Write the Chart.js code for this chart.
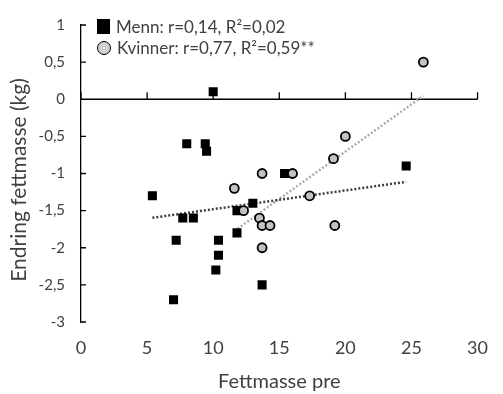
<!DOCTYPE html>
<html>
<head>
<meta charset="utf-8">
<script src="https://cdn.jsdelivr.net/npm/chart.js@4.4.0/dist/chart.umd.min.js"></script>
<style>
  body { margin: 0; background: #fff; }
  #wrap { position: relative; width: 503px; height: 394px; font-family: Lato, sans-serif; color: #404040; }
  #legend { position: absolute; left: 97px; top: 16px; font-size: 17px; }
  .item { display: flex; align-items: center; height: 21px; }
  .sq { width: 13px; height: 15px; background: #000; margin-right: 6px; }
  .ci { width: 12px; height: 12px; border: 1.6px solid #000; border-radius: 50%; background: #d2d2d2; margin-right: 6px; }
</style>
</head>
<body>
<div id="wrap">
  <canvas id="chart"></canvas>
  <div id="legend">
    <div class="item"><span class="sq"></span>Menn: r=0,14, R²=0,02</div>
    <div class="item"><span class="ci"></span>Kvinner: r=0,77, R²=0,59**</div>
  </div>
</div>
<script>
// Fettmasse pre (x) and endring fettmasse (y)
const menX = [10.0, 5.4, 8.0, 9.4, 9.5, 15.4, 24.6, 7.7, 8.5, 7.2, 10.4, 10.4, 10.2, 7.0, 13.7, 11.8, 11.8, 13.0];
const menY = [0.1, -1.3, -0.6, -0.6, -0.7, -1.0, -0.9, -1.6, -1.6, -1.9, -1.9, -2.1, -2.3, -2.7, -2.5, -1.8, -1.5, -1.4];
const womenX = [25.9, 20.0, 19.1, 13.7, 16.0, 11.6, 17.3, 12.3, 13.5, 13.7, 14.3, 19.2, 13.7];
const womenY = [0.5, -0.5, -0.8, -1.0, -1.0, -1.2, -1.3, -1.5, -1.6, -1.7, -1.7, -1.7, -2.0];

const xTicks = [0, 5, 10, 15, 20, 25, 30];
const yTicks = [1, 0.5, 0, -0.5, -1, -1.5, -2, -2.5, -3];

const xTitle = "Fettmasse pre";
const yTitle = "Endring fettmasse (kg)";

const toPoints = (xs, ys) => xs.map((x, i) => ({ x: x, y: ys[i] }));

// least squares line over the range of the data (like the Excel trendline)
function trend(xs, ys) {
  const n = xs.length;
  const mx = xs.reduce((s, v) => s + v, 0) / n;
  const my = ys.reduce((s, v) => s + v, 0) / n;
  let sxy = 0, sxx = 0;
  xs.forEach((x, i) => { sxy += (x - mx) * (ys[i] - my); sxx += (x - mx) * (x - mx); });
  const b = sxy / sxx, a = my - b * mx;
  const lo = Math.min(...xs), hi = Math.max(...xs);
  return [{ x: lo, y: a + b * lo }, { x: hi, y: a + b * hi }];
}

const textColor = "#404040";

// zero line with inside ticks, and inside ticks on the y axis
const axisMarks = {
  id: "axisMarks",
  beforeDatasetsDraw(chart) {
    const { ctx, chartArea, scales: { x, y } } = chart;
    const y0 = y.getPixelForValue(0);
    ctx.save();
    ctx.strokeStyle = "#000";
    ctx.lineWidth = 1.3;
    ctx.beginPath();
    ctx.moveTo(chartArea.left, y0);
    ctx.lineTo(chartArea.right, y0);
    x.ticks.forEach((t) => {
      const px = x.getPixelForValue(t.value);
      ctx.moveTo(px, y0);
      ctx.lineTo(px, y0 - 7);
    });
    y.ticks.forEach((t) => {
      const py = y.getPixelForValue(t.value);
      ctx.moveTo(chartArea.left, py);
      ctx.lineTo(chartArea.left + 5, py);
    });
    ctx.stroke();
    ctx.restore();
  },
};

// y title sits a little below the middle of the axis, as in the original
const yTitleLabel = {
  id: "yTitleLabel",
  afterDraw(chart) {
    const ctx = chart.ctx;
    ctx.save();
    ctx.translate(19, 180);
    ctx.rotate(-Math.PI / 2);
    ctx.font = "21px Lato";
    ctx.fillStyle = textColor;
    ctx.textAlign = "center";
    ctx.textBaseline = "middle";
    ctx.fillText(yTitle, 0, 0);
    ctx.restore();
  },
};

new Chart(document.getElementById("chart"), {
  type: "scatter",
  data: {
    datasets: [
      {
        label: "Kvinner",
        data: toPoints(womenX, womenY),
        pointStyle: "circle",
        pointRadius: 4.5,
        pointBackgroundColor: "#c2c2c2",
        pointBorderColor: "#000",
        pointBorderWidth: 1.8,
        order: 1,
      },
      {
        label: "Menn",
        data: toPoints(menX, menY),
        pointStyle: "rect",
        pointRadius: 6.4,
        pointBackgroundColor: "#000",
        pointBorderColor: "#000",
        pointBorderWidth: 0,
        order: 2,
      },
      {
        label: "Trend Menn",
        data: trend(menX, menY),
        showLine: true,
        pointRadius: 0,
        borderColor: "#3f3f3f",
        borderWidth: 2.5,
        borderDash: [2, 2],
        order: 3,
      },
      {
        label: "Trend Kvinner",
        data: trend(womenX, womenY),
        showLine: true,
        pointRadius: 0,
        borderColor: "#a9b0a3",
        borderWidth: 2.5,
        borderDash: [2, 2],
        order: 3,
      },
    ],
  },
  options: {
    responsive: true,
    maintainAspectRatio: false,
    animation: false,
    layout: { padding: { top: 22, right: 14, left: 0, bottom: 0 } },
    plugins: {
      legend: { display: false },
      tooltip: { enabled: false },
    },
    scales: {
      x: {
        min: 0,
        max: 30,
        afterBuildTicks: (scale) => { scale.ticks = xTicks.map((v) => ({ value: v })); },
        afterFit: (scale) => { scale.height = 72; },
        grid: { display: false, drawTicks: false },
        border: { display: false },
        ticks: {
          padding: 15,
          color: textColor,
          font: { family: "Lato", size: 18 },
        },
        title: {
          display: true,
          text: xTitle,
          color: textColor,
          font: { family: "Lato", size: 20 },
          padding: { top: 0, bottom: 0 },
        },
      },
      y: {
        min: -3,
        max: 1,
        afterBuildTicks: (scale) => { scale.ticks = yTicks.map((v) => ({ value: v })); },
        afterFit: (scale) => { scale.width = 81; },
        grid: { display: false, drawTicks: false },
        border: { display: true, color: "#000", width: 1.3 },
        ticks: {
          padding: 16,
          color: textColor,
          font: { family: "Lato", size: 15 },
          callback: (v) => String(v).replace(".", ","),
        },
      },
    },
  },
  plugins: [axisMarks, yTitleLabel],
});
</script>
</body>
</html>
